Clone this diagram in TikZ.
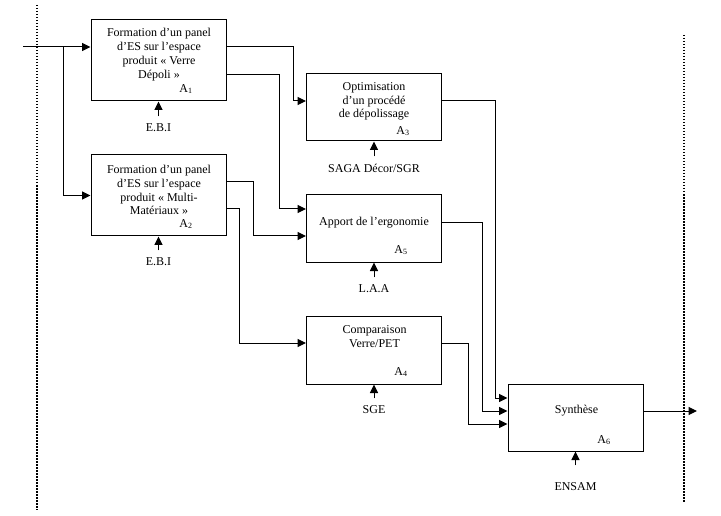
\documentclass[tikz,border=0pt]{standalone}
\usepackage{fontspec}
\setmainfont{Liberation Serif}
\usetikzlibrary{arrows.meta}

\begin{document}
\begin{tikzpicture}[x=1pt,y=-1pt,line width=1pt,every node/.style={inner sep=0pt,font=\fontsize{12}{13.8}\selectfont,align=center},blk/.style={draw,rectangle,minimum width=135pt,minimum height=67pt},sub/.style={font=\fontsize{12}{13.8}\selectfont},flow/.style={-{Triangle[length=8.5pt,width=8pt]}},mech/.style={flow,shorten <=7pt},sep/.style={line width=2pt,dash pattern=on 1.5pt off 1.5pt}]
\useasboundingbox (0,0) rectangle (721,516);
\draw[sep] (37,5) -- (37,510);
\draw[sep] (684,35) -- (684,503);
\node[blk,minimum height=81pt] (a1) at (158.5,60.5) {};
\node (t1) at (159,54.5) {Formation d’un panel\\d’ES sur l’espace\\produit « Verre\\Dépoli »};
\node[sub] (n1) at (186,89) {A\textsubscript{1}};
\node (m1) at (158.5,128) {E.B.I};
\node[blk,minimum height=81pt] (a2) at (158.5,195.5) {};
\node (t2) at (159,190) {Formation d’un panel\\d’ES sur l’espace\\produit « Multi-\\Matériaux »};
\node[sub] (n2) at (186,224) {A\textsubscript{2}};
\node (m2) at (158.5,262) {E.B.I};
\node[blk] (a3) at (374,107.5) {};
\node (t3) at (374,101.5) {Optimisation\\d’un procédé\\de dépolissage};
\node[sub] (n3) at (403,131) {A\textsubscript{3}};
\node (m3) at (374,168) {SAGA Décor/SGR};
\node[blk] (a5) at (374,228.5) {};
\node (t5) at (374,223) {Apport de l’ergonomie};
\node[sub] (n5) at (401,250) {A\textsubscript{5}};
\node (m5) at (374,289) {L.A.A};
\node[blk,minimum height=68pt] (a4) at (374,350) {};
\node (t4) at (374.5,337) {Comparaison\\Verre/PET};
\node[sub] (n4) at (401,372) {A\textsubscript{4}};
\node (m4) at (374,410) {SGE};
\node[blk] (a6) at (575.5,417.5) {};
\node (t6) at (576.5,411) {Synthèse};
\node[sub] (n6) at (604,440) {A\textsubscript{6}};
\node (m6) at (575.5,487) {ENSAM};
\coordinate (in) at (23,47);
\coordinate (br) at (63,47);
\coordinate (out) at (697,411);
\draw[flow] (in) -- (a1.west |- in);
\draw[flow] (br) |- (a2.west);
\draw[flow] (a1.east |- in) -| (293,101) -- (a3.west |- 0,101);
\draw[flow] (a1.east |- 0,75) -| (279,209) -- (a5.west |- 0,209);
\draw[flow] (a2.east |- 0,182) -| (253,236) -- (a5.west |- 0,236);
\draw[flow] (a2.east |- 0,209) -| (239,343) -- (a4.west |- 0,343);
\draw[flow] (a3.east |- 0,101) -| (495,398) -- (a6.west |- 0,398);
\draw[flow] (a5.east |- 0,223) -| (482,411) -- (a6.west |- 0,411);
\draw[flow] (a4.east |- 0,343) -| (468,424) -- (a6.west |- 0,424);
\draw[flow] (a6.east |- out) -- (out);
\draw[mech] (m1) -- (a1);
\draw[mech] (m2) -- (a2);
\draw[mech] (m3) -- (a3);
\draw[mech] (m5) -- (a5);
\draw[mech] (m4) -- (a4);
\draw[mech,shorten <=17pt] (m6) -- (a6);
\end{tikzpicture}
\end{document}
